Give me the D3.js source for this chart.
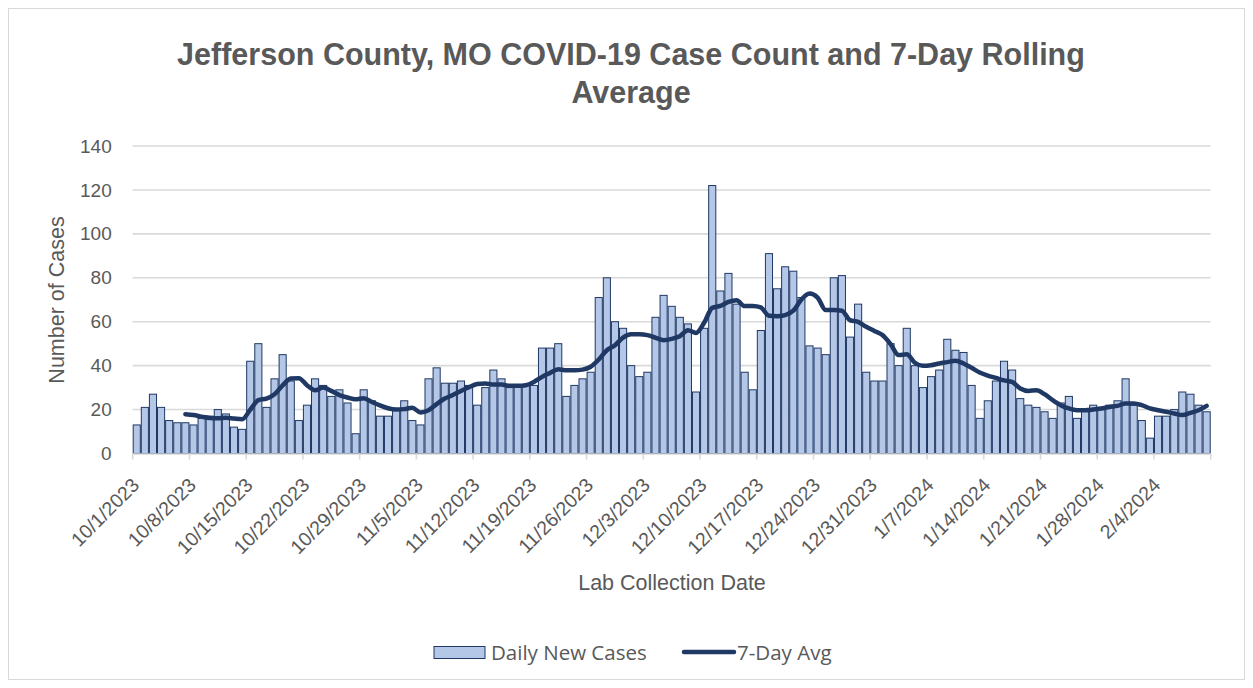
<!DOCTYPE html>
<html><head><meta charset="utf-8">
<script src="https://cdn.jsdelivr.net/npm/d3@7"></script>
<style>body{margin:0;background:#fff;} svg{display:block}</style>
</head><body><svg id="c" width="1253" height="688"></svg>
<script>
// ---------- data ----------
const categories = d3.timeDay.range(new Date(2023, 9, 1), new Date(2024, 1, 11)).map(d3.timeFormat("%-m/%-d/%Y"));
const dailyCases = [
  13,21,27,21,15,14,14,13,16,17,20,18,12,11,42,50,21,34,45,33,
  15,22,34,31,26,29,23,9,29,24,17,17,20,24,15,13,34,39,32,32,
  33,31,22,30,38,34,30,31,31,31,48,48,50,26,31,34,37,71,80,60,
  57,40,35,37,62,72,67,62,59,28,57,122,74,82,68,37,29,56,91,75,
  85,83,71,49,48,45,80,81,53,68,37,33,33,50,40,57,40,30,35,38,
  52,47,46,31,16,24,33,42,38,25,22,21,19,16,23,26,16,20,22,21,
  22,24,34,22,15,7,17,17,20,28,27,22,19
];
const rollingAvg = [
  null,null,null,null,null,null,17.9,17.5,16.8,16.2,16.0,16.3,15.9,15.6,19.9,24.3,25.0,27.0,31.0,34.1,
  34.3,31.1,28.8,30.0,28.5,26.6,25.5,24.7,25.2,23.5,21.9,20.6,20.0,20.2,20.8,18.7,19.7,22.5,25.0,26.6,
  28.5,30.2,31.6,31.9,31.4,31.4,30.8,30.8,31.1,32.6,34.9,36.7,38.4,37.9,37.9,38.2,39.5,42.8,47.0,49.3,
  52.8,54.3,54.3,53.9,52.7,51.6,52.2,53.4,56.1,54.9,59.5,66.3,67.2,69.0,69.8,67.1,67.2,66.5,62.7,62.5,
  63.0,65.0,70.1,72.8,71.0,65.3,65.3,65.0,60.7,59.9,57.7,55.8,53.9,49.8,44.8,45.2,41.3,39.9,40.2,41.0,
  41.6,42.2,41.0,39.0,36.9,35.5,34.4,33.3,32.6,29.6,28.5,28.8,27.0,24.3,22.0,20.5,19.7,19.7,20.0,20.5,
  21.2,21.7,22.8,22.8,22.0,20.5,19.7,19.0,18.2,17.5,18.5,19.7,21.7
];
const tickLabels = ["10/1/2023","10/8/2023","10/15/2023","10/22/2023","10/29/2023","11/5/2023","11/12/2023",
  "11/19/2023","11/26/2023","12/3/2023","12/10/2023","12/17/2023","12/24/2023","12/31/2023","1/7/2024",
  "1/14/2024","1/21/2024","1/28/2024","2/4/2024"];
const yTicks = [0,20,40,60,80,100,120,140];
const seriesNames = ["Daily New Cases", "7-Day Avg"];
const titleLines = ["Jefferson County, MO COVID-19 Case Count and 7-Day Rolling", "Average"];

// ---------- layout ----------
const svg = d3.select("#c");
const W = 1253, H = 688;
const plotL = 132.7, plotR = 1210.7, plotT = 146, plotB = 453.5;
const barFill = "#b4c7e7", navy = "#1f3864", grid = "#d9d9d9", textCol = "#595959";
const axisFont = "'Liberation Sans', Arial, sans-serif";

svg.append("rect").attr("x", 0).attr("y", 0).attr("width", W).attr("height", H).attr("fill", "#fff");
svg.append("rect").attr("x", 8.5).attr("y", 8.5).attr("width", W - 17).attr("height", H - 17)
  .attr("fill", "none").attr("stroke", grid).attr("stroke-width", 1);

const x = d3.scaleBand().domain(categories).range([plotL, plotR]).padding(0);
const y = d3.scaleLinear().domain([0, 140]).range([plotB, plotT]);

// title
svg.append("text").attr("text-anchor", "middle")
  .attr("font-family", axisFont).attr("font-weight", "bold").attr("font-size", 30.5).attr("fill", textCol)
  .selectAll("tspan").data(titleLines).join("tspan")
  .attr("x", 631).attr("y", (d, i) => 65 + i * 38).text(d => d);

// gridlines
svg.append("g").selectAll("line").data(yTicks.filter(v => v > 0)).join("line")
  .attr("x1", plotL).attr("x2", plotR).attr("y1", d => y(d)).attr("y2", d => y(d))
  .attr("stroke", grid).attr("stroke-width", 1.6);

// y axis labels
const yAxis = d3.axisLeft(y).tickValues(yTicks).tickSize(0).tickPadding(21);
const gy = svg.append("g").attr("transform", `translate(${plotL},0)`).call(yAxis);
gy.select(".domain").remove();
gy.selectAll("text").attr("font-family", axisFont).attr("font-size", 19).attr("fill", textCol);

// bars
svg.append("g").selectAll("rect").data(dailyCases).join("rect")
  .attr("x", (d, i) => x(categories[i]) + 0.5)
  .attr("y", d => y(d))
  .attr("width", x.bandwidth() - 1)
  .attr("height", d => y(0) - y(d))
  .attr("fill", barFill).attr("stroke", navy).attr("stroke-width", 1);

// x axis
svg.append("line").attr("x1", plotL).attr("x2", plotR).attr("y1", plotB + 0.5).attr("y2", plotB + 0.5)
  .attr("stroke", grid).attr("stroke-width", 1.6);
const tickPos = tickLabels.map(l => x(l)).concat([plotR]);
svg.append("g").selectAll("line").data(tickPos).join("line")
  .attr("x1", d => d).attr("x2", d => d).attr("y1", plotB).attr("y2", plotB + 6)
  .attr("stroke", grid).attr("stroke-width", 1.6);
svg.append("g").selectAll("text").data(tickLabels).join("text")
  .attr("transform", d => `translate(${x(d) + 3},${plotB + 28}) rotate(-45)`)
  .attr("text-anchor", "end").attr("dy", "0.35em")
  .attr("font-family", axisFont).attr("font-size", 19.5).attr("fill", textCol)
  .text(d => d);

// rolling average line
const line = d3.line()
  .defined(d => d != null)
  .x((d, i) => x(categories[i]) + x.bandwidth() / 2)
  .y(d => y(d))
  .curve(d3.curveMonotoneX);
svg.append("path").datum(rollingAvg).attr("d", line)
  .attr("fill", "none").attr("stroke", navy).attr("stroke-width", 4.5)
  .attr("stroke-linejoin", "round").attr("stroke-linecap", "round");

// axis titles
svg.append("text").attr("transform", "translate(64,300) rotate(-90)").attr("text-anchor", "middle")
  .attr("font-family", axisFont).attr("font-size", 21.5).attr("fill", textCol).text("Number of Cases");
svg.append("text").attr("x", 672).attr("y", 590).attr("text-anchor", "middle")
  .attr("font-family", axisFont).attr("font-size", 21.5).attr("fill", textCol).text("Lab Collection Date");

// legend
const lg = svg.append("g");
lg.append("rect").attr("x", 434).attr("y", 646.5).attr("width", 51).attr("height", 12)
  .attr("fill", barFill).attr("stroke", navy).attr("stroke-width", 1);
lg.append("text").attr("x", 491).attr("y", 660).attr("font-family", "'Open Sans', sans-serif")
  .attr("font-size", 20.5).attr("fill", textCol).text(seriesNames[0]);
lg.append("line").attr("x1", 684).attr("x2", 734).attr("y1", 652).attr("y2", 652)
  .attr("stroke", navy).attr("stroke-width", 4.5).attr("stroke-linecap", "round");
lg.append("text").attr("x", 737).attr("y", 660).attr("font-family", "'Open Sans', sans-serif")
  .attr("font-size", 20.5).attr("fill", textCol).text(seriesNames[1]);
</script></body></html>
